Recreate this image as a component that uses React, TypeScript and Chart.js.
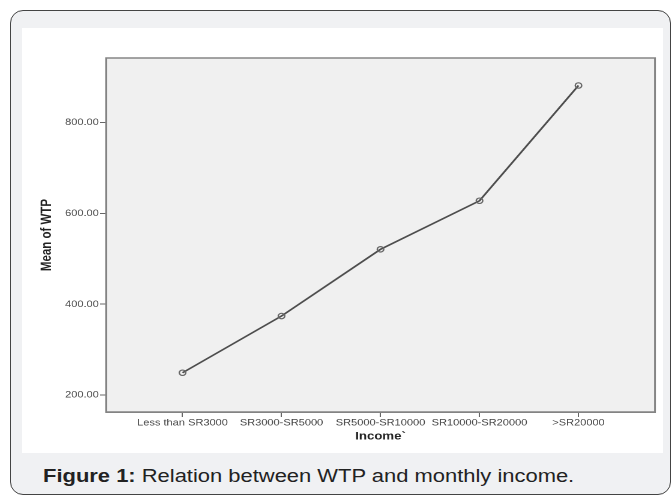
import React, { useEffect, useRef } from "react";
import { Chart, registerables } from "chart.js";

Chart.register(...registerables);

const categories = [
  "Less than SR3000",
  "SR3000-SR5000",
  "SR5000-SR10000",
  "SR10000-SR20000",
  ">SR20000",
];
const meanWTP = [249, 374, 521, 628, 882];
const yTickValues = [200, 400, 600, 800];
const yMin = 162.5;
const yMax = 942.6;
const xPad = 0.7727;

const xTitle = "Income`";
const yTitle = "Mean of WTP";

const PANEL_W = 641;
const PANEL_H = 425;
const CANVAS_W = 534;
const STRETCH = PANEL_W / CANVAS_W;
const FONT = '"Liberation Sans", Arial, sans-serif';

export default function App() {
  const ref = useRef<HTMLCanvasElement>(null);

  useEffect(() => {
    if (!ref.current) return;
    const framePlugin = {
      id: "plotFrame",
      beforeDraw(chart: any) {
        const { ctx, chartArea } = chart;
        const { left, top, right, bottom } = chartArea;
        ctx.save();
        ctx.fillStyle = "#f0f0f0";
        ctx.fillRect(left, top, right - left, bottom - top);
        ctx.restore();
      },
      afterDraw(chart: any) {
        const { ctx, chartArea } = chart;
        const { left, top, right, bottom } = chartArea;
        ctx.save();
        ctx.strokeStyle = "#858585";
        ctx.lineWidth = 1.5;
        ctx.strokeRect(left, top, right - left, bottom - top);
        ctx.restore();
      },
    };

    const chart = new Chart(ref.current, {
      type: "line",
      data: {
        datasets: [
          {
            data: meanWTP.map((v, i) => ({ x: i, y: v })),
            borderColor: "#4d4d4d",
            borderWidth: 1.6,
            tension: 0,
            pointRadius: 2.7,
            pointBorderWidth: 1.2,
            pointBorderColor: "#666666",
            pointBackgroundColor: "rgba(0,0,0,0)",
            fill: false,
          },
        ],
      },
      options: {
        animation: false,
        responsive: false,
        devicePixelRatio: 2,
        layout: { padding: { top: 30, right: 6.7, bottom: 0, left: 0 } },
        plugins: {
          legend: { display: false },
          tooltip: { enabled: false },
        },
        scales: {
          x: {
            type: "linear",
            position: "bottom",
            min: -xPad,
            max: categories.length - 1 + xPad,
            afterBuildTicks: (s: any) => {
              s.ticks = categories.map((_, i) => ({ value: i }));
            },
            afterFit: (s: any) => {
              s.height = 41;
            },
            ticks: {
              autoSkip: false,
              maxRotation: 0,
              minRotation: 0,
              padding: 0.5,
              color: "#444",
              font: { family: FONT, size: 9.2 },
              callback: (v: any) => categories[Math.round(Number(v))] ?? "",
            },
            grid: {
              display: true,
              drawOnChartArea: false,
              drawTicks: true,
              tickLength: 5,
              color: "#666",
              lineWidth: 1,
            },
            border: { display: true, color: "#7f7f7f", width: 1.5 },
            title: {
              display: true,
              text: xTitle,
              color: "#222",
              font: { family: FONT, size: 11, weight: "bold" },
              padding: { top: 0, bottom: 10 },
            },
          },
          y: {
            type: "linear",
            min: yMin,
            max: yMax,
            afterBuildTicks: (s: any) => {
              s.ticks = yTickValues.map((v) => ({ value: v }));
            },
            afterFit: (s: any) => {
              s.width = 70;
            },
            ticks: {
              padding: 1,
              color: "#444",
              font: { family: FONT, size: 9.2 },
              callback: (v: any) => Number(v).toFixed(2),
            },
            grid: {
              display: true,
              drawOnChartArea: false,
              drawTicks: true,
              tickLength: 5,
              color: "#666",
              lineWidth: 1,
            },
            border: { display: true, color: "#777", width: 1.5 },
            title: {
              display: true,
              text: yTitle,
              color: "#222",
              font: { family: FONT, size: 11.5, weight: "bold" },
              padding: { top: 13.7, bottom: 0 },
            },
          },
        },
      },
      plugins: [framePlugin],
    } as any);

    return () => chart.destroy();
  }, []);

  return (
    <div
      style={{
        position: "fixed",
        left: 0,
        top: 0,
        width: 671,
        height: 497,
        background: "#fff",
        overflow: "hidden",
      }}
    >
      <div
        style={{
          position: "absolute",
          left: 10,
          top: 10,
          width: 661,
          height: 485,
          boxSizing: "border-box",
          border: "1.5px solid #444",
          borderRadius: 13,
          background: "#f0f1f3",
        }}
      />
      <div
        style={{
          position: "absolute",
          left: 22,
          top: 28,
          width: PANEL_W,
          height: PANEL_H,
          background: "#fff",
          overflow: "hidden",
        }}
      >
        <div
          style={{
            position: "absolute",
            left: 0,
            top: 0,
            width: CANVAS_W,
            height: PANEL_H,
            transform: `scaleX(${STRETCH})`,
            transformOrigin: "0 0",
          }}
        >
          <canvas
            ref={ref}
            width={CANVAS_W}
            height={PANEL_H}
            style={{ display: "block", width: CANVAS_W, height: PANEL_H }}
          />
        </div>
      </div>
      <div
        style={{
          position: "absolute",
          left: 43,
          top: 466,
          fontFamily: FONT,
          fontSize: 18.3,
          lineHeight: "20px",
          color: "#222",
          whiteSpace: "nowrap",
          transform: "scaleX(1.2)",
          transformOrigin: "0 0",
        }}
      >
        <b>Figure 1:</b> Relation between WTP and monthly income.
      </div>
    </div>
  );
}
